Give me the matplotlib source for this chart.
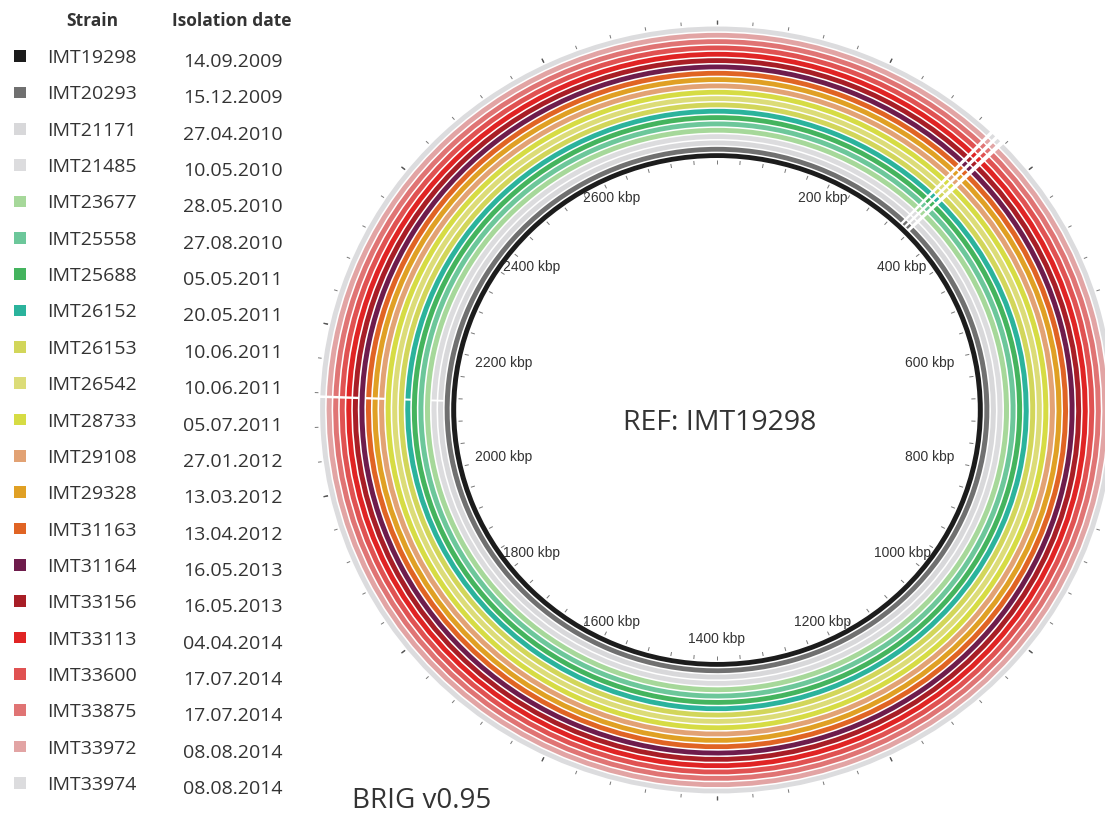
import numpy as np
import matplotlib
import matplotlib.pyplot as plt

matplotlib.use('Agg')

# legend data
strains = ['IMT19298', 'IMT20293', 'IMT21171', 'IMT21485', 'IMT23677', 'IMT25558',
           'IMT25688', 'IMT26152', 'IMT26153', 'IMT26542', 'IMT28733', 'IMT29108',
           'IMT29328', 'IMT31163', 'IMT31164', 'IMT33156', 'IMT33113', 'IMT33600',
           'IMT33875', 'IMT33972', 'IMT33974']
dates = ['14.09.2009', '15.12.2009', '27.04.2010', '10.05.2010', '28.05.2010', '27.08.2010',
         '05.05.2011', '20.05.2011', '10.06.2011', '10.06.2011', '05.07.2011', '27.01.2012',
         '13.03.2012', '13.04.2012', '16.05.2013', '16.05.2013', '04.04.2014', '17.07.2014',
         '17.07.2014', '08.08.2014', '08.08.2014']
colors = ['#1c1c1c', '#707070', '#d8d8da', '#dcdcde', '#a6d89a', '#6cc79a',
          '#44b45e', '#2bb39c', '#d2d65a', '#dcdc78', '#d6dc44', '#e2a274',
          '#e0a024', '#e06424', '#6e1c4c', '#a81e26', '#e02424', '#e05252',
          '#e07474', '#e2a4a4', '#dcdcde']

# genome (kbp) and blast gaps
genome_kbp = 2800
label_kbp = [200, 400, 600, 800, 1000, 1200, 1400, 1600, 1800, 2000, 2200, 2400, 2600]
tick_step = 40
gap_main = [(338, 342), (346, 350), (354, 359)]
gap_left = [(2114, 2117)]
gap_left_rings = [2, 3, 7, 11, 12, 13, 15, 16, 17, 18, 19, 20]


def segments(gaps):
    # complement of the gap list on [0, genome]
    segs, start = [], 0
    for a, b in sorted(gaps):
        segs.append((start, a))
        start = b
    segs.append((start, genome_kbp))
    return segs


def to_rad(kbp):
    return np.asarray(kbp) / genome_kbp * 2 * np.pi


fig = plt.figure(figsize=(11.05, 8.13), dpi=100)

# ---- circular map ----
W, H = 1105, 813
cx, cy, rmax, stretch = 717, 410, 400, 1.035
ax = fig.add_axes([(cx - rmax * stretch) / W, (H - cy - rmax) / H,
                   2 * rmax * stretch / W, 2 * rmax / H], projection='polar')
ax.set_aspect('auto')
ax.set_theta_zero_location('N')
ax.set_theta_direction(-1)
ax.set_ylim(0, rmax)
ax.axis('off')

r0, r1 = 252, 385
step = (r1 - r0) / len(strains)
band = step * 0.76
for i, c in enumerate(colors):
    gaps = []
    if i > 0:
        gaps += gap_main
    if i in gap_left_rings:
        gaps += gap_left
    for a, b in segments(gaps):
        t0, t1 = to_rad(a), to_rad(b)
        ax.bar((t0 + t1) / 2, band, width=t1 - t0, bottom=r0 + i * step,
               color=c, linewidth=0, align='center')

# tick marks
ticks = np.arange(0, genome_kbp, tick_step)
major = ticks[ticks % 200 == 0]
ax.vlines(to_rad(ticks), r1 + 0.5, r1 + 4, color='#777777', lw=0.7)
ax.vlines(to_rad(major), r1 + 0.5, r1 + 5, color='#555555', lw=1.0)
ax.vlines(to_rad(ticks), r0 - 6, r0 - 2, color='#777777', lw=0.7)

for kbp in label_kbp:
    th = to_rad(kbp)
    r = 229 - 24 * np.sin(th) ** 4 + 9 * abs(np.sin(2 * th))
    ax.text(th, r, f'{kbp} kbp', ha='center', va='center', fontsize=10,
            family='Liberation Sans', color='#333333')

# ---- legend table ----
lg = fig.add_axes([0, 0, 1, 1])
lg.set_xlim(0, W)
lg.set_ylim(H, 0)
lg.axis('off')
lg.patch.set_alpha(0)

row_y = 58 + np.arange(len(strains)) * 36.35
lg.scatter(np.full(len(strains), 20), row_y - 2, marker='s', s=70, c=colors, linewidths=0)
for y, s, d in zip(row_y, strains, dates):
    lg.text(47, y, s, ha='left', va='center', fontsize=14, family='Open Sans', color='#333333')
    lg.text(183, y + 4, d, ha='left', va='center', fontsize=14, family='Open Sans', color='#333333')

lg.text(92, 21, 'Strain', ha='center', va='center', fontsize=12.5, family='Open Sans',
        weight='bold', color='#333333')
lg.text(232, 21, 'Isolation date', ha='center', va='center', fontsize=12.5, family='Open Sans',
        weight='bold', color='#333333')
lg.text(720, 423, 'REF: IMT19298', ha='center', va='center', fontsize=20.5,
        family='Open Sans', color='#333333')
lg.text(352, 801, 'BRIG v0.95', ha='left', va='center', fontsize=20, family='Open Sans',
        color='#333333')

fig.savefig('out.png', dpi=100)
